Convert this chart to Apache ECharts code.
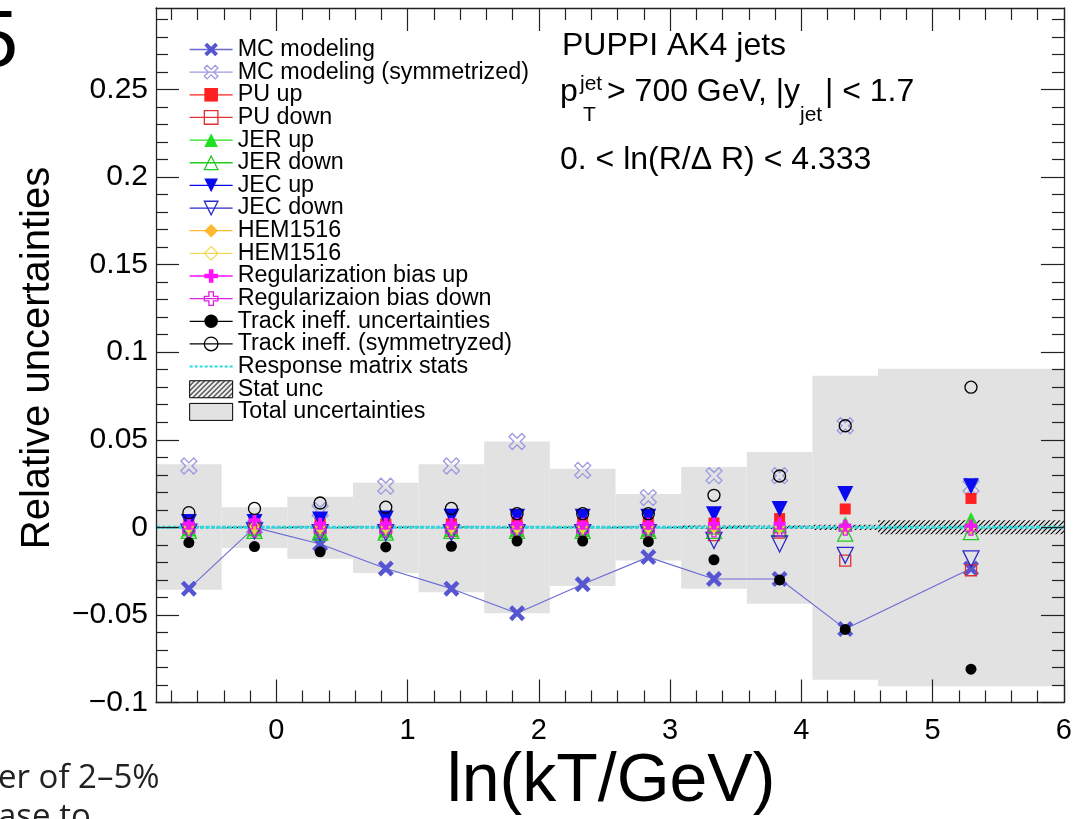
<!DOCTYPE html>
<html><head><meta charset="utf-8">
<script src="https://cdn.jsdelivr.net/npm/echarts@6/dist/echarts.min.js"></script>
<style>html,body{margin:0;padding:0;background:#fff}#c{width:1075px;height:819px}</style>
</head><body><div id="c"></div>
<script>
// ---------------- data ----------------
const binEdges = [-0.916, -0.416, 0.084, 0.584, 1.084, 1.584, 2.084, 2.584, 3.084, 3.584, 4.084, 4.584, 6.0];
const mcModeling    = [-0.035, 0.000, -0.0095, -0.0235, -0.035, -0.049, -0.0325, -0.017, -0.0295, -0.0295, -0.058, -0.0235];
const mcModelingSym = [0.035, 0.000, 0.0095, 0.0235, 0.035, 0.049, 0.0325, 0.017, 0.0295, 0.0295, 0.058, 0.0235];
const puUp    = [0.002, 0.001, 0.002, 0.002, 0.002, 0.003, 0.003, 0.003, 0.0025, 0.005, 0.0105, 0.0165];
const puDown  = [-0.001, -0.001, -0.002, -0.002, -0.002, -0.002, -0.002, -0.002, -0.0045, -0.003, -0.019, -0.0245];
const jerUp   = [-0.001, -0.001, -0.002, -0.002, -0.001, -0.001, -0.001, -0.001, 0.000, 0.001, 0.002, 0.0045];
const jerDown = [-0.002, -0.002, -0.003, -0.003, -0.002, -0.002, -0.002, -0.002, -0.002, -0.001, -0.0036, -0.0027];
const jecUp   = [0.003, 0.003, 0.0045, 0.005, 0.006, 0.006, 0.006, 0.006, 0.0075, 0.0105, 0.019, 0.0235];
const jecDown = [-0.0027, -0.002, -0.003, -0.003, -0.003, -0.003, -0.003, -0.003, -0.0075, -0.0095, -0.016, -0.018];
const hemUp   = [-0.0007, -0.0007, -0.0007, -0.0007, -0.0007, -0.0007, -0.0007, -0.0007, -0.0005, -0.0005, 0.000, -0.0005];
const hemDown = [0.0005, 0.0005, 0.0005, 0.0005, 0.0005, 0.0005, 0.0005, 0.0005, 0.0005, 0.0005, 0.000, 0.0005];
const regUp   = [0.002, 0.004, 0.002, 0.002, 0.002, 0.002, 0.002, 0.002, 0.002, 0.002, 0.001, 0.001];
const regDown = [-0.002, -0.002, -0.002, -0.002, -0.002, -0.002, -0.002, -0.002, -0.002, -0.002, -0.001, -0.001];
const trackUnc = [-0.0087, -0.011, -0.014, -0.0112, -0.0108, -0.0078, -0.0078, -0.0082, -0.0185, -0.0300, -0.0583, -0.081];
const trackSym = [0.0084, 0.0108, 0.0139, 0.0115, 0.0108, 0.0078, 0.0078, 0.0078, 0.0183, 0.0293, 0.058, 0.080];
const respStats = [0, 0, 0, 0, 0, 0, 0, 0, 0, 0, 0, 0];
const statUnc  = [0.0005, 0.0005, 0.0005, 0.0005, 0.0005, 0.0005, 0.0005, 0.0005, 0.001, 0.001, 0.0015, 0.004];
const totalHi  = [0.036, 0.0115, 0.0175, 0.0255, 0.036, 0.049, 0.0335, 0.019, 0.0345, 0.043, 0.0865, 0.0905];
const totalLo  = [-0.0356, -0.0118, -0.018, -0.026, -0.037, -0.049, -0.0335, -0.019, -0.035, -0.0436, -0.087, -0.0907];
const xTickLabels = [0, 1, 2, 3, 4, 5, 6];
const yTickLabels = [-0.1, -0.05, 0, 0.05, 0.1, 0.15, 0.2, 0.25];

// ---------------- setup ----------------
const X_MIN = -0.9163, X_MAX = 6.0, Y_MIN = -0.1, Y_MAX = 0.2965;
const FONT = 'Liberation Sans';
const centers = binEdges.slice(0, -1).map((e, i) => (e + binEdges[i + 1]) / 2);
const xMinor = [], yMinor = [];
for (let k = -4; k <= 29; k++) { if (k % 5 !== 0) xMinor.push(+(k * 0.2).toFixed(2)); }
for (let k = -9; k <= 29; k++) { if (k % 5 !== 0) yMinor.push(+(k * 0.01).toFixed(2)); }

function hatchCanvas() {
  const c = document.createElement('canvas'); c.width = 5; c.height = 5;
  const g = c.getContext('2d'); g.strokeStyle = '#000'; g.lineWidth = 1.1;
  g.beginPath(); g.moveTo(0, 5); g.lineTo(5, 0); g.moveTo(-1, 1); g.lineTo(1, -1); g.moveTo(4, 6); g.lineTo(6, 4); g.stroke();
  return c;
}
const hatch = { image: hatchCanvas(), repeat: 'repeat' };

const XPATH = 'path://M-3,-1.8L-1.8,-3L0,-1.2L1.8,-3L3,-1.8L1.2,0L3,1.8L1.8,3L0,1.2L-1.8,3L-3,1.8L-1.2,0Z';
const PLUS = 'path://M-1,-3H1V-1H3V1H1V3H-1V1H-3V-1H-1Z';
const AX = '#222';

function xAx(pos, ticks, len, main) {
  return {
    type: 'value', gridIndex: 0, position: pos, min: X_MIN, max: X_MAX, z: 10,
    axisLine: { show: main, onZero: false, lineStyle: { color: AX, width: 1.3 } },
    axisTick: { show: true, inside: true, length: len, customValues: ticks, lineStyle: { color: AX, width: 1.2 } },
    axisLabel: (pos === 'bottom' && len > 15) ? { show: true, customValues: xTickLabels, margin: 14, fontSize: 29, fontFamily: FONT, color: '#000' } : { show: false },
    splitLine: { show: false }, minorTick: { show: false }
  };
}
function yAx(pos, ticks, len, main) {
  return {
    type: 'value', gridIndex: 0, position: pos, min: Y_MIN, max: Y_MAX, z: 10,
    axisLine: { show: main, onZero: false, lineStyle: { color: AX, width: 1.3 } },
    axisTick: { show: true, inside: true, length: len, customValues: ticks, lineStyle: { color: AX, width: 1.2 } },
    axisLabel: (pos === 'left' && len > 15) ? { show: true, customValues: yTickLabels, margin: 8, fontSize: 30, fontFamily: FONT, color: '#000',
      formatter: v => String(+v.toFixed(3)).replace('-', '\u2212') } : { show: false },
    splitLine: { show: false }, minorTick: { show: false }
  };
}

const series = [];
const legendData = [];

// total uncertainty band
series.push({
  type: 'custom', name: 'Total uncertainties', z: 1, silent: true,
  data: binEdges.slice(0, -1).map((e, i) => [e, binEdges[i + 1], totalLo[i], totalHi[i]]),
  encode: { x: [0, 1], y: [2, 3] },
  itemStyle: { color: '#e2e2e2' },
  renderItem: (params, api) => {
    const p0 = api.coord([api.value(0), api.value(3)]);
    const p1 = api.coord([api.value(1), api.value(2)]);
    return { type: 'rect', shape: { x: p0[0], y: p0[1], width: p1[0] - p0[0], height: p1[1] - p0[1] }, style: { fill: '#e2e2e2' } };
  }
});
// stat unc hatched band
series.push({
  type: 'custom', name: 'Stat unc', z: 2, silent: true,
  data: binEdges.slice(0, -1).map((e, i) => [e, binEdges[i + 1], -statUnc[i], statUnc[i]]),
  encode: { x: [0, 1], y: [2, 3] },
  itemStyle: { color: '#000' },
  renderItem: (params, api) => {
    const p0 = api.coord([api.value(0), api.value(3)]);
    const p1 = api.coord([api.value(1), api.value(2)]);
    return { type: 'rect', shape: { x: p0[0], y: p0[1], width: p1[0] - p0[0], height: Math.max(1.5, p1[1] - p0[1]) }, style: { fill: hatch } };
  }
});
// response matrix stats (histogram line)
const respData = [];
respStats.forEach((v, i) => { respData.push([binEdges[i], v]); respData.push([binEdges[i + 1], v]); });
series.push({
  type: 'line', name: 'Response matrix stats', z: 3, silent: true, symbol: 'none', data: respData,
  lineStyle: { color: '#2ad8e0', width: 3, type: [4, 1.5] }, itemStyle: { color: '#2ad8e0' }
});

function mk(name, vals, color, symbol, size, opts) {
  opts = opts || {};
  const open = !!opts.open;
  const itemStyle = open ? { color: 'rgba(0,0,0,0)', borderColor: color, borderWidth: 1.3 } : { color: color, borderWidth: 0 };
  series.push({
    type: 'line', name: name, z: 4, silent: true, showAllSymbol: true,
    data: centers.map((c, i) => [c, vals[i]]),
    symbol: symbol, symbolSize: size, symbolRotate: opts.rot || 0,
    itemStyle: itemStyle,
    lineStyle: { color: opts.lineColor || color, width: opts.connect ? 1.1 : 0 },
    emphasis: { disabled: true }
  });
  legendData.push({ name: name, itemStyle: itemStyle, lineStyle: { color: opts.lineColor || color, width: 1.3 } });
}

mk('MC modeling', mcModeling, '#5656d2', XPATH, 16, { connect: true, lineColor: '#6a6ad6' });
mk('MC modeling (symmetrized)', mcModelingSym, '#9a9ae0', XPATH, 16, { open: true });
mk('PU up', puUp, '#ff2020', 'rect', 11);
mk('PU down', puDown, '#e03030', 'rect', 11, { open: true });
mk('JER up', jerUp, '#20e020', 'triangle', 15);
mk('JER down', jerDown, '#20cc20', 'triangle', 15, { open: true });
mk('JEC up', jecUp, '#0a0aee', 'triangle', 16, { rot: 180 });
mk('JEC down', jecDown, '#2a2acc', 'triangle', 16, { rot: 180, open: true });
mk('HEM1516', hemUp, '#ffb830', 'diamond', [9, 13]);
mk('HEM1516 (2)', hemDown, '#eedc5a', 'diamond', [9, 13], { open: true });
mk('Regularization bias up', regUp, '#ff10ff', PLUS, 12);
mk('Regularizaion bias down', regDown, '#e020e0', PLUS, 12, { open: true });
mk('Track ineff. uncertainties', trackUnc, '#000000', 'circle', 11);
mk('Track ineff. (symmetryzed)', trackSym, '#000000', 'circle', 12, { open: true });

legendData.push({ name: 'Response matrix stats', icon: 'path://M0,0h3v2h-3zM5,0h3v2h-3zM10,0h3v2h-3zM15,0h3v2h-3zM20,0h3v2h-3zM25,0h3v2h-3zM30,0h3v2h-3zM35,0h3v2h-3zM40,0h3v2h-3z', itemStyle: { color: '#2ad8e0', borderWidth: 0 } });
legendData.push({ name: 'Stat unc', icon: 'rect', itemStyle: { color: hatch, borderColor: '#000', borderWidth: 1 } });
legendData.push({ name: 'Total uncertainties', icon: 'rect', itemStyle: { color: '#e2e2e2', borderColor: '#000', borderWidth: 1 } });

function txt(text, x, y, size, opts) {
  opts = opts || {};
  return { type: 'text', x: x, y: y, rotation: opts.rot || 0, z: 20, silent: true,
    style: { text: text, font: size + 'px "' + (opts.font || FONT) + '"', fill: opts.color || '#000',
      textAlign: opts.align || 'left', textVerticalAlign: 'middle' } };
}

const option = {
  animation: false,
  grid: { left: 156, right: 5.5, top: 8, bottom: 116.5, containLabel: false },
  xAxis: [xAx('bottom', xTickLabels, 23, true), xAx('bottom', xMinor, 12, false), xAx('top', xTickLabels, 23, true), xAx('top', xMinor, 12, false)],
  yAxis: [yAx('left', yTickLabels, 23, true), yAx('left', yMinor, 12, false), yAx('right', yTickLabels, 23, true), yAx('right', yMinor, 12, false)],
  legend: {
    orient: 'vertical', left: 189, top: 38, padding: 0, itemGap: -0.35, itemWidth: 43, itemHeight: 17,
    selectedMode: false, data: legendData,
    formatter: n => n.replace(' (2)', ''),
    textStyle: { fontSize: 23.3, fontFamily: FONT, color: '#000', lineHeight: 22.25 }
  },
  series: series,
  graphic: [
    txt('PUPPI AK4 jets', 562, 46, 32),
    txt('p', 560, 92, 32),
    txt('jet', 580, 84, 21),
    txt('T', 583, 115.5, 21),
    txt('> 700 GeV, |y', 607, 92, 32),
    txt('jet', 800, 115, 21),
    txt('| < 1.7', 825, 92, 32),
    txt('0. < ln(R/\u0394 R) < 4.333', 560, 160, 32),
    txt('ln(kT/GeV)', 611, 782, 68, { align: 'center' }),
    txt('Relative uncertainties', 38, 358, 40, { rot: Math.PI / 2, align: 'center' }),
    txt('5', 18, 44, 80, { align: 'right' }),
    txt('er of 2\u20135%', -2, 779, 33, { font: 'Open Sans', color: '#222' }),
    txt('ase to', -2, 818, 33, { font: 'Open Sans', color: '#222' })
  ]
};
const chart = echarts.init(document.getElementById('c'), null, { renderer: 'canvas' });
chart.setOption(option);
</script>
</body></html>
